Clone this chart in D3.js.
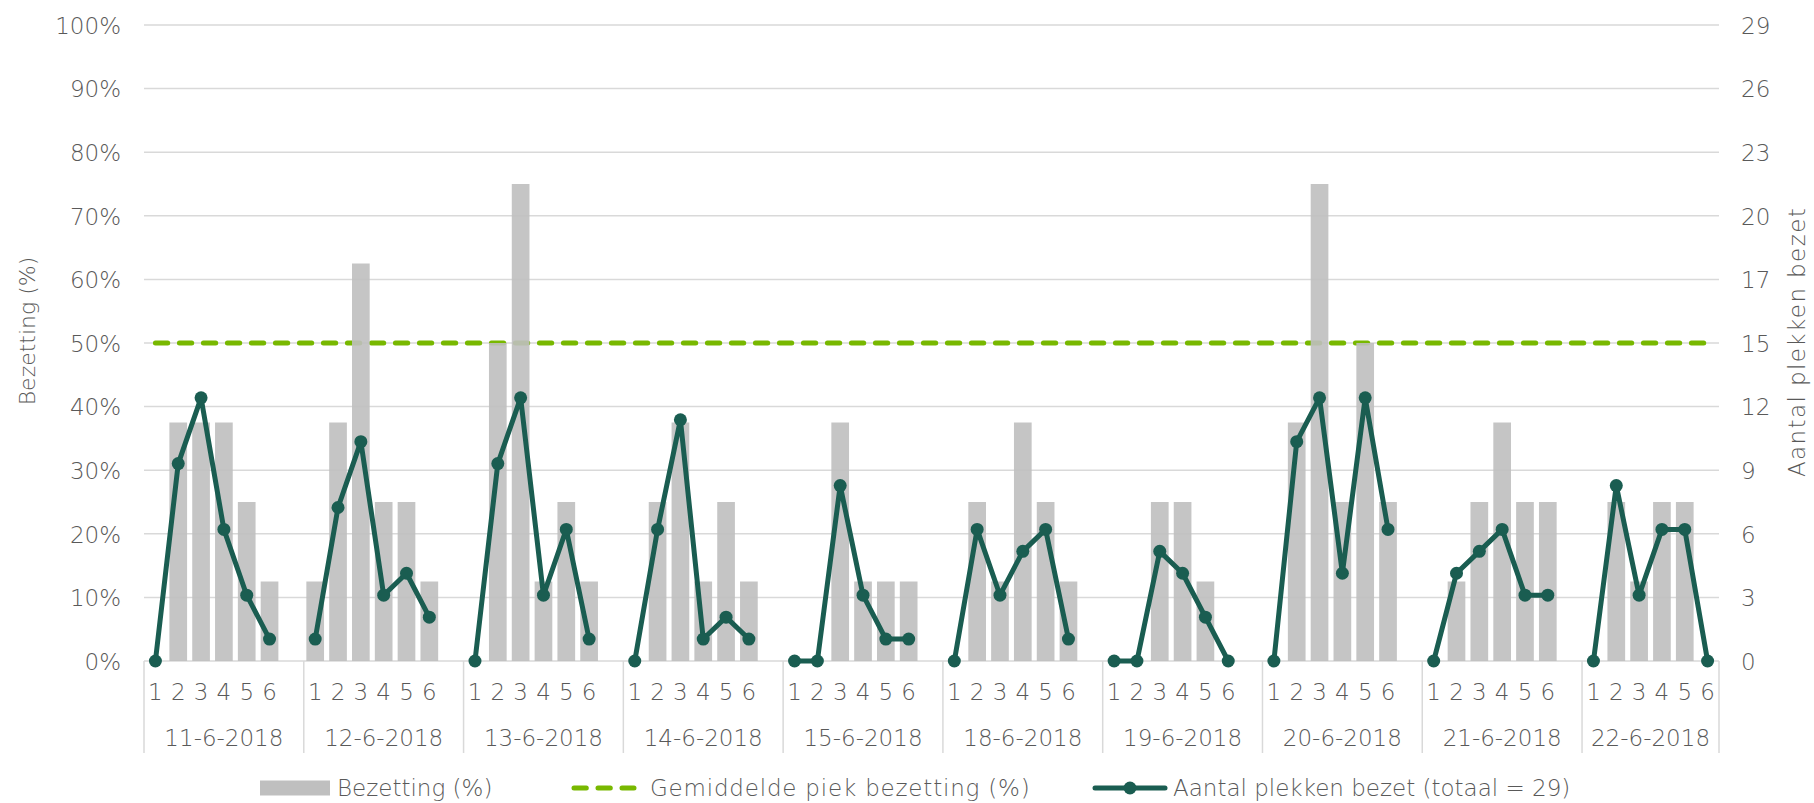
<!DOCTYPE html>
<html>
<head>
<meta charset="utf-8">
<script src="https://cdn.jsdelivr.net/npm/d3@7"></script>
<style>
  html, body { margin: 0; padding: 0; background: #ffffff; }
  svg { display: block; }
  text { font-family: "DejaVu Sans", sans-serif; font-weight: 200; fill: #595959; }
</style>
</head>
<body>
<svg id="chart" width="1814" height="803"></svg>
<script>
// ---- data ----
const dates = ["11-6-2018","12-6-2018","13-6-2018","14-6-2018","15-6-2018","18-6-2018","19-6-2018","20-6-2018","21-6-2018","22-6-2018"];
const slots = ["1","2","3","4","5","6"];
const bezetting = [
  [0, 37.5, 37.5, 37.5, 25, 12.5],
  [12.5, 37.5, 62.5, 25, 25, 12.5],
  [0, 50, 75, 12.5, 25, 12.5],
  [0, 25, 37.5, 12.5, 25, 12.5],
  [0, 0, 37.5, 12.5, 12.5, 12.5],
  [0, 25, 12.5, 37.5, 25, 12.5],
  [0, 0, 25, 25, 12.5, 0],
  [0, 37.5, 75, 25, 50, 25],
  [0, 12.5, 25, 37.5, 25, 25],
  [0, 25, 12.5, 25, 25, 0]
];
const aantal = [
  [0, 9, 12, 6, 3, 1],
  [1, 7, 10, 3, 4, 2],
  [0, 9, 12, 3, 6, 1],
  [0, 6, 11, 1, 2, 1],
  [0, 0, 8, 3, 1, 1],
  [0, 6, 3, 5, 6, 1],
  [0, 0, 5, 4, 2, 0],
  [0, 10, 12, 4, 12, 6],
  [0, 4, 5, 6, 3, 3],
  [0, 8, 3, 6, 6, 0]
];
const gemiddeldePiek = 50;
const totaalPlekken = 29;
const leftTicks = [0, 10, 20, 30, 40, 50, 60, 70, 80, 90, 100];
const legendLabels = ["Bezetting (%)", "Gemiddelde piek bezetting (%)", "Aantal plekken bezet (totaal = 29)"];
const leftTitle = "Bezetting (%)";
const rightTitle = "Aantal plekken bezet";

// ---- layout ----
const svg = d3.select("#chart");
const L = 144, R = 1719, T = 25, B = 661;
const C = { grid: "#d9d9d9", bar: "#bfbfbf", line: "#1a5d51", dash: "#78b800", text: "#595959" };
const FONT = '"DejaVu Sans", sans-serif';
const FS = 23;

// slot keys: each date has 6 slots plus one blank slot (except last)
const keys = [];
dates.forEach((d, i) => {
  slots.forEach(s => keys.push(d + "|" + s));
  if (i < dates.length - 1) keys.push(d + "|");
});

const x = d3.scaleBand().domain(keys).range([L, R]).paddingInner(0.225).paddingOuter(0.1125);
const step = x.step();
const cx = k => x(k) + x.bandwidth() / 2;
const slotStart = k => x(k) - (step - x.bandwidth()) / 2;

const yL = d3.scaleLinear().domain([0, 100]).range([B, T]);
const yR = d3.scaleLinear().domain([0, totaalPlekken]).range([B, T]);

// gridlines
svg.append("g").selectAll("line").data(leftTicks).join("line")
  .attr("x1", L).attr("x2", R)
  .attr("y1", d => yL(d)).attr("y2", d => yL(d))
  .attr("stroke", C.grid).attr("stroke-width", 1.5);

function styleAxisText(g) {
  g.select(".domain").remove();
  g.attr("font-family", null).attr("font-size", null);
  g.selectAll("text")
    .attr("font-size", FS).style("font-family", FONT).style("font-weight", 200)
    .attr("fill", C.text).attr("dy", "0.36em");
}

// left axis
const leftAxis = d3.axisLeft(yL).tickValues(leftTicks).tickFormat(d => d + "%").tickSize(0).tickPadding(0);
const gL = svg.append("g").attr("transform", `translate(${121},0)`).call(leftAxis);
styleAxisText(gL);

// right axis
const rightTicks = d3.range(0, 11).map(k => totaalPlekken * k / 10);
const rightAxis = d3.axisRight(yR).tickValues(rightTicks).tickFormat(d3.format(".0f")).tickSize(0).tickPadding(0);
const gR = svg.append("g").attr("transform", `translate(${1741},0)`).call(rightAxis);
styleAxisText(gR);

// axis titles
svg.append("text").attr("transform", `translate(27,${331}) rotate(-90)`)
  .attr("text-anchor", "middle").attr("dominant-baseline", "central")
  .attr("font-size", 22).text(leftTitle);
svg.append("text").attr("transform", `translate(1797,${342}) rotate(-90)`)
  .attr("text-anchor", "middle").attr("dominant-baseline", "central")
  .attr("font-size", FS).attr("letter-spacing", 1.4).text(rightTitle);

// category separators
const bounds = dates.map(d => slotStart(d + "|1")).concat([R]);
svg.append("g").selectAll("line").data(bounds).join("line")
  .attr("x1", d => d).attr("x2", d => d)
  .attr("y1", B).attr("y2", 753)
  .attr("stroke", C.grid).attr("stroke-width", 1.5);

// slot labels
const slotData = [];
dates.forEach(d => slots.forEach(s => slotData.push({ key: d + "|" + s, s })));
svg.append("g").selectAll("text").data(slotData).join("text")
  .attr("x", d => cx(d.key)).attr("y", 692)
  .attr("text-anchor", "middle").attr("dominant-baseline", "central")
  .attr("font-size", FS).text(d => d.s);

// date labels
svg.append("g").selectAll("text").data(dates).join("text")
  .attr("x", (d, i) => (bounds[i] + bounds[i + 1]) / 2).attr("y", 738)
  .attr("text-anchor", "middle").attr("dominant-baseline", "central")
  .attr("font-size", FS).text(d => d);

// average dashed line (behind bars)
const firstKey = keys[0], lastKey = keys[keys.length - 1];
svg.append("line")
  .attr("x1", cx(firstKey)).attr("x2", cx(lastKey))
  .attr("y1", yL(gemiddeldePiek)).attr("y2", yL(gemiddeldePiek))
  .attr("stroke", C.dash).attr("stroke-width", 5)
  .attr("stroke-linecap", "round").attr("stroke-dasharray", "12.3 11.7");

// bars
const barData = [];
dates.forEach((d, i) => slots.forEach((s, j) => barData.push({ key: d + "|" + s, v: bezetting[i][j] })));
svg.append("g").selectAll("rect").data(barData.filter(d => d.v > 0)).join("rect")
  .attr("x", d => x(d.key)).attr("width", x.bandwidth())
  .attr("y", d => yL(d.v)).attr("height", d => yL(0) - yL(d.v))
  .attr("fill", C.bar).attr("fill-opacity", 0.9);

// count lines per date
const line = d3.line().x(d => cx(d.key)).y(d => yR(d.v));
dates.forEach((d, i) => {
  const pts = slots.map((s, j) => ({ key: d + "|" + s, v: aantal[i][j] }));
  const g = svg.append("g");
  g.append("path").datum(pts).attr("d", line)
    .attr("fill", "none").attr("stroke", C.line).attr("stroke-width", 5).attr("stroke-linejoin", "round");
  g.selectAll("circle").data(pts).join("circle")
    .attr("cx", p => cx(p.key)).attr("cy", p => yR(p.v)).attr("r", 6.5).attr("fill", C.line);
});

// legend
const ly = 788;
const lg = svg.append("g");
lg.append("rect").attr("x", 260).attr("y", ly - 7.5).attr("width", 70).attr("height", 15).attr("fill", C.bar);
lg.append("text").attr("x", 337).attr("y", ly).attr("dominant-baseline", "central").attr("font-size", FS).text(legendLabels[0]);
lg.append("line").attr("x1", 574).attr("x2", 634).attr("y1", ly).attr("y2", ly)
  .attr("stroke", C.dash).attr("stroke-width", 5).attr("stroke-linecap", "round").attr("stroke-dasharray", "12.3 11.7");
lg.append("text").attr("x", 650).attr("y", ly).attr("dominant-baseline", "central").attr("font-size", FS).attr("letter-spacing", 0.8).text(legendLabels[1]);
lg.append("line").attr("x1", 1095).attr("x2", 1165).attr("y1", ly).attr("y2", ly)
  .attr("stroke", C.line).attr("stroke-width", 5).attr("stroke-linecap", "round");
lg.append("circle").attr("cx", 1130).attr("cy", ly).attr("r", 6.5).attr("fill", C.line);
lg.append("text").attr("x", 1173).attr("y", ly).attr("dominant-baseline", "central").attr("font-size", FS).text(legendLabels[2]);
</script>
</body>
</html>
